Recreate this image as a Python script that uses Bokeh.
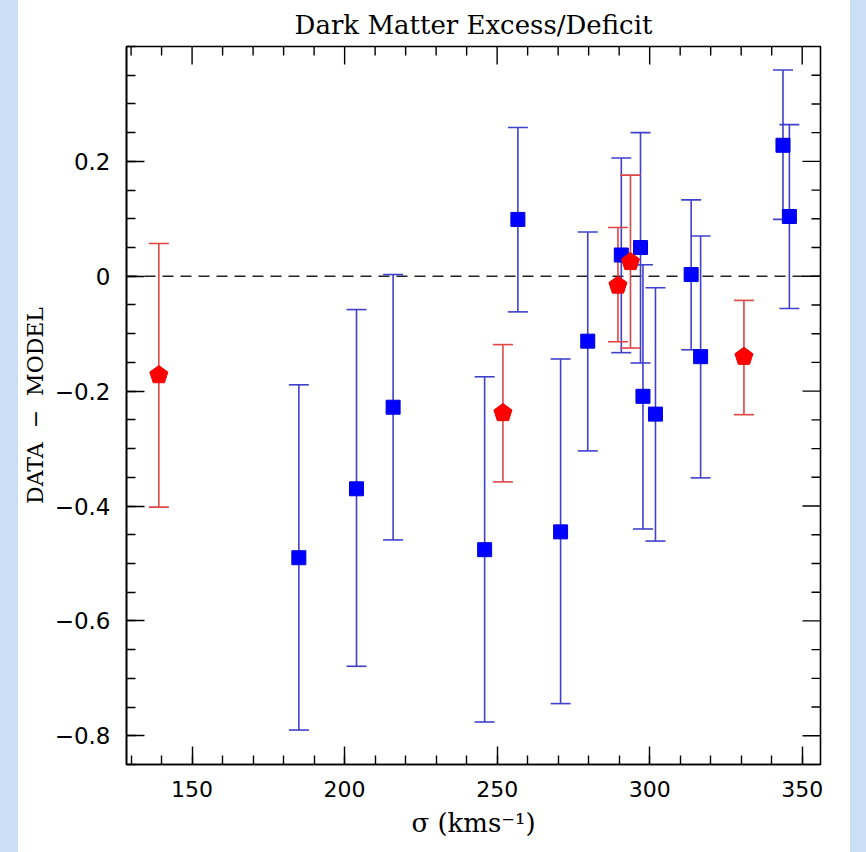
import numpy as np
from bokeh.plotting import figure
from bokeh.models import (ColumnDataSource, Whisker, TeeHead, Span, FixedTicker,
                          CustomJSTickFormatter, Range1d, Div)
from bokeh.layouts import row
from bokeh.embed import file_html
from bokeh.resources import INLINE

# ---------------- data ----------------
blue_sigma = [185.0, 203.9, 215.9, 245.9, 256.8, 270.8, 279.7, 290.7, 297.0, 297.8, 301.9, 313.6, 316.7, 343.7, 345.8]
blue_resid = [-0.490, -0.370, -0.228, -0.476, 0.099, -0.445, -0.113, 0.037, 0.050, -0.209, -0.240, 0.003, -0.140, 0.228, 0.104]
blue_upper = [-0.189, -0.058, 0.003, -0.175, 0.259, -0.144, 0.077, 0.206, 0.250, 0.020, -0.020, 0.133, 0.070, 0.359, 0.264]
blue_lower = [-0.790, -0.679, -0.459, -0.776, -0.062, -0.744, -0.304, -0.133, -0.151, -0.440, -0.461, -0.128, -0.351, 0.099, -0.056]

red_sigma = [139.1, 251.9, 289.6, 293.7, 330.9]
red_resid = [-0.172, -0.238, -0.016, 0.025, -0.140]
red_upper = [0.057, -0.119, 0.085, 0.176, -0.042]
red_lower = [-0.402, -0.358, -0.114, -0.125, -0.241]

x_major = [150, 200, 250, 300, 350]
x_minor = list(range(130, 360, 10))
y_major = [-0.8, -0.6, -0.4, -0.2, 0.0, 0.2]
y_minor = [round(v, 2) for v in np.arange(-0.85, 0.401, 0.05)]

title_text = "Dark Matter Excess/Deficit"
x_label = "σ (kms⁻¹)"
y_label = "DATA\u00a0\u00a0\u2212\u00a0\u00a0MODEL"

# ---------------- styling ----------------
X0, X1 = 128.5, 356.0
Y0, Y1 = -0.85, 0.40
FW, FH = 694, 718
BLUE_BAR = "#4040cc"
RED_BAR = "#e04646"
PAGE_BLUE = "#cadff3"
SERIF = "DejaVu Serif"
SANS = "DejaVu Sans"
MAJ_LEN, MIN_LEN = 18, 9

p = figure(frame_width=FW, frame_height=FH,
           x_range=Range1d(X0, X1), y_range=Range1d(Y0, Y1),
           output_backend="svg", toolbar_location=None,
           min_border_left=108, min_border_right=30, min_border_top=45, min_border_bottom=89,
           title=title_text, x_axis_label=x_label, y_axis_label=y_label)
p.grid.visible = False
p.background_fill_color = "white"
p.border_fill_color = "white"
p.outline_line_color = "black"
p.outline_line_width = 1.6

p.title.text_font = SERIF
p.title.text_font_size = "26px"
p.title.text_font_style = "normal"
p.title.align = "center"
p.title.text_color = "black"
p.title.standoff = 14

yfmt = CustomJSTickFormatter(code="""
    if (Math.abs(tick) < 1e-9) return "0";
    return (tick < 0 ? "\\u2212" : "") + Math.abs(tick).toFixed(1);
""")
xfmt = CustomJSTickFormatter(code="return tick.toFixed(0);")


def style_axis(ax, major, minor, formatter, label_size):
    ax.ticker = FixedTicker(ticks=major, minor_ticks=minor)
    ax.formatter = formatter
    ax.axis_line_color = "black"
    ax.axis_line_width = 1.6
    ax.major_tick_line_color = "black"
    ax.minor_tick_line_color = "black"
    ax.major_tick_line_width = 1.4
    ax.minor_tick_line_width = 1.4
    ax.major_tick_in = MAJ_LEN
    ax.major_tick_out = 0
    ax.minor_tick_in = MIN_LEN
    ax.minor_tick_out = 0
    ax.major_label_text_font = SANS
    ax.major_label_text_font_size = label_size
    ax.major_label_text_color = "black"
    ax.major_label_standoff = 16
    ax.axis_label_text_font = SERIF
    ax.axis_label_text_font_style = "normal"
    ax.axis_label_text_color = "black"


style_axis(p.xaxis[0], x_major, x_minor, xfmt, "22px")
style_axis(p.yaxis[0], y_major, y_minor, yfmt, "23px")
p.xaxis[0].axis_label_text_font_size = "26px"
p.xaxis[0].axis_label_standoff = 8
p.yaxis[0].axis_label_text_font_size = "22px"
p.yaxis[0].axis_label_standoff = 4

# inward ticks on the top and right frame edges (same tick values as the axes)
px_x = FW / (X1 - X0)
px_y = FH / (Y1 - Y0)


def top_ticks(vals, length):
    v = [t for t in vals if X0 <= t <= X1]
    p.segment(x0=v, x1=v, y0=[Y1] * len(v), y1=[Y1 - length / px_y] * len(v),
              line_color="black", line_width=1.4)


def right_ticks(vals, length):
    v = [t for t in vals if Y0 < t < Y1]
    p.segment(x0=[X1] * len(v), x1=[X1 - length / px_x] * len(v), y0=v, y1=v,
              line_color="black", line_width=1.4)


top_ticks(x_major, MAJ_LEN)
top_ticks([t for t in x_minor if t not in x_major], MIN_LEN)
right_ticks(y_major, MAJ_LEN)
right_ticks([t for t in y_minor if all(abs(t - m) > 1e-6 for m in y_major)], MIN_LEN)

# zero line
p.add_layout(Span(location=0, dimension="width", line_color="#222222", line_width=1.6,
                  line_dash="11 7", level="underlay"))

# blue error bars and squares
bsrc = ColumnDataSource(dict(x=blue_sigma, y=blue_resid, lo=blue_lower, hi=blue_upper))
p.add_layout(Whisker(source=bsrc, base="x", upper="hi", lower="lo",
                     line_color=BLUE_BAR, line_width=1.6,
                     upper_head=TeeHead(size=20, line_color=BLUE_BAR, line_width=1.6),
                     lower_head=TeeHead(size=20, line_color=BLUE_BAR, line_width=1.6)))
p.scatter("x", "y", source=bsrc, marker="square", size=14,
          fill_color="#0000ff", line_color="#0000dd", line_width=1)

# red error bars and pentagons
rsrc = ColumnDataSource(dict(x=red_sigma, y=red_resid, lo=red_lower, hi=red_upper))
p.add_layout(Whisker(source=rsrc, base="x", upper="hi", lower="lo",
                     line_color=RED_BAR, line_width=1.6,
                     upper_head=TeeHead(size=20, line_color=RED_BAR, line_width=1.6),
                     lower_head=TeeHead(size=20, line_color=RED_BAR, line_width=1.6)))

R = 9.5  # circumradius of pentagon marker, in screen pixels
ang = np.pi / 2 + np.arange(5) * 2 * np.pi / 5
pent_xs = [list(cx + R * np.cos(ang) / px_x) for cx in red_sigma]
pent_ys = [list(cy + R * np.sin(ang) / px_y) for cy in red_resid]
p.patches(pent_xs, pent_ys, fill_color="#ff0000", line_color="#ee0000", line_width=1)

left = Div(width=18, height=852, margin=0, styles={"background-color": PAGE_BLUE})
right = Div(width=16, height=852, margin=0, styles={"background-color": PAGE_BLUE})
layout = row(left, p, right, spacing=0)

open("out.html", "w").write(file_html(layout, INLINE))
